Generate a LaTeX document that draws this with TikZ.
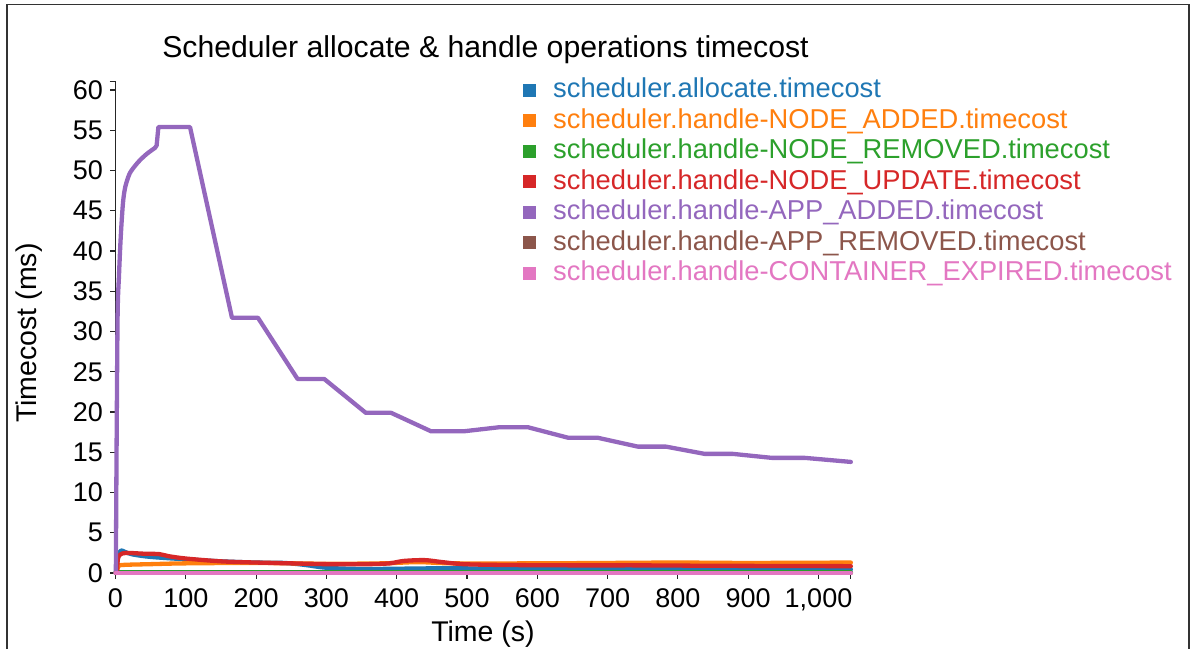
\documentclass[tikz,border=0pt]{standalone}
\usepackage{fontspec}
\setmainfont{Liberation Sans}
\definecolor{sAlloc}{HTML}{1F77B4}
\definecolor{sNodeAdd}{HTML}{FF7F0E}
\definecolor{sNodeRem}{HTML}{2CA02C}
\definecolor{sNodeUpd}{HTML}{D62728}
\definecolor{sAppAdd}{HTML}{9467BD}
\definecolor{sAppRem}{HTML}{8C564B}
\definecolor{sContExp}{HTML}{E377C2}
\begin{document}
\begin{tikzpicture}[x=1pt,y=-1pt,
  frameline/.style={draw=black!80,line width=1.4pt},
  axisline/.style={draw=black!85,line width=1.1pt},
  series/.style={line width=4.3pt,line join=round,line cap=round},
  ticklbl/.style={font=\fontsize{27}{27}\selectfont,inner sep=0pt},
  axislbl/.style={font=\fontsize{28.5}{28.5}\selectfont,inner sep=0pt},
  titlelbl/.style={font=\fontsize{30.2}{30.2}\selectfont,inner sep=0pt},
  legtext/.style={font=\fontsize{27.3}{27.3}\selectfont,inner sep=0pt,anchor=base west},
  legbox/.style={minimum size=13pt,inner sep=0pt}]
\useasboundingbox (0,0) rectangle (1191,649);

% outer frame (open at the bottom)
\draw[frameline] (7,649) -- (7,4.5) -- (1189,4.5) -- (1189,649);

% title and axis titles
\node[titlelbl,anchor=base] (title) at (485.5,57) {Scheduler allocate \& handle operations timecost};
\node[axislbl,anchor=base] (xlabel) at (483,641) {Time (s)};
\node[axislbl,anchor=base,rotate=90] (ylabel) at (36.5,333) {Timecost (ms)};

% plotting area: data coordinates (seconds, ms)
\begin{scope}[shift={(115.5,573)},x=0.703pt,y=8.05pt]
  % y axis with ticks
  \draw[axisline] ([xshift=-6pt]0,61.1) -- (0,61.1) -- (0,0) -- ([xshift=-6pt]0,0);
  \foreach \v in {0,5,...,60}
    \draw[axisline] (0,\v) -- ++(-6pt,0pt)
      node[ticklbl,anchor=east,xshift=-6pt] (yt\v) {\v};
  % x axis with ticks
  \draw[axisline] ([yshift=-6pt]0,0) -- (0,0) -- (1046,0) -- ([yshift=-6pt]1046,0);
  \foreach \t/\lbl in {0/0,100/100,200/200,300/300,400/400,500/500,600/600,700/700,800/800,900/900,1000/{1,000}}
    \draw[axisline] (\t,0) -- ++(0pt,-6pt)
      node[ticklbl,anchor=north,yshift=-9pt] (xt\t) {\lbl};

  % series
  \draw[series,sAlloc] plot[smooth,tension=0.5] coordinates {
    (1.5,0.4) (4,2.2) (8,2.8) (14,2.6) (25,2.3) (50,2.0) (100,1.7) (150,1.45)
    (200,1.3) (240,1.25) (270,1.0) (300,0.65) (350,0.5) (420,0.55) (480,0.6)
    (550,0.5) (650,0.5) (720,0.6) (800,0.5) (900,0.5) (1046,0.45)};
  \draw[series,sNodeAdd] plot[smooth,tension=0.5] coordinates {
    (2,0) (4,0.8) (10,1.0) (50,1.1) (100,1.2) (200,1.25) (300,1.15) (380,1.2)
    (430,1.35) (480,1.2) (600,1.2) (700,1.25) (800,1.3) (900,1.25) (1046,1.3)};
  \draw[series,sNodeRem] (0,0.05) -- (1046,0.05);
  \draw[series,sNodeUpd] plot[smooth,tension=0.5] coordinates {
    (2,0.2) (3.5,1.8) (7,2.3) (15,2.5) (40,2.4) (62,2.35) (75,2.1) (100,1.8)
    (150,1.45) (200,1.3) (250,1.2) (300,1.1) (360,1.1) (390,1.2) (410,1.5)
    (440,1.6) (465,1.35) (495,1.1) (550,1.0) (650,0.95) (750,0.95) (850,0.9)
    (1046,0.85)};
  \draw[series,sAppAdd] plot[smooth,tension=0.5] coordinates {
    (0.5,0) (1.5,15) (3,32) (5,37) (7,41) (9,44) (11,46.3) (14,48) (20,49.6)
    (28,50.6) (35,51.3) (45,52.1) (56,52.8)}
    -- (58.5,53.1) -- (61,55.4) -- (106,55.4) -- (165.7,31.7) -- (202.7,31.7)
    -- (259,24.1) -- (297,24.1) -- (356,19.9) -- (392,19.9) -- (449,17.6)
    -- (495,17.6) -- (545,18.1) -- (587,18.1) -- (644,16.8) -- (686,16.8)
    -- (743,15.7) -- (783,15.7) -- (838,14.8) -- (878,14.8) -- (934,14.3)
    -- (981,14.3) -- (1046,13.8);
  \draw[series,sAppRem] (0,0.02) -- (1046,0.02);
  \draw[series,sContExp] (0,0) -- (1046,0);
\end{scope}

% legend
\foreach \i/\col/\txt/\yb in {
    1/sAlloc/scheduler.allocate.timecost/97.5,
    2/sNodeAdd/scheduler.handle-NODE\_ADDED.timecost/128,
    3/sNodeRem/scheduler.handle-NODE\_REMOVED.timecost/158.5,
    4/sNodeUpd/scheduler.handle-NODE\_UPDATE.timecost/189,
    5/sAppAdd/scheduler.handle-APP\_ADDED.timecost/219.5,
    6/sAppRem/scheduler.handle-APP\_REMOVED.timecost/250,
    7/sContExp/scheduler.handle-CONTAINER\_EXPIRED.timecost/280.5} {
  \node[legbox,fill=\col] (legbox\i) at (529.5,\yb-7.5) {};
  \node[legtext,text=\col] (legtxt\i) at (553,\yb) {\txt};
}
\end{tikzpicture}
\end{document}
